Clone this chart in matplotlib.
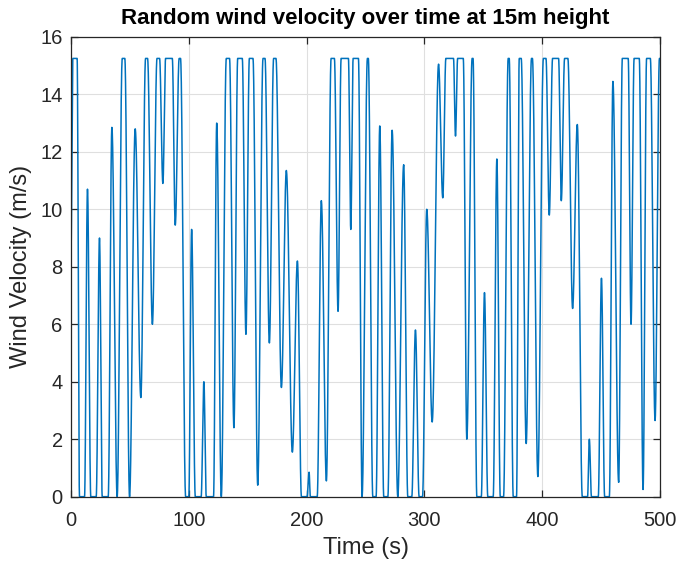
import numpy as np
import matplotlib
matplotlib.use("Agg")
import matplotlib.pyplot as plt

# turning points of the wind trace (time in s, velocity in m/s)
# a flat run at the cap (15.25) or at zero is given as its two end points
knot_t = [0, 1.6, 5.2, 7.2, 11.5, 14.0, 16.8, 21.4, 24.2, 26.5,
          31.6, 34.7, 39.2, 43.5, 45.7, 49.7, 54.5, 59.3, 63.3, 65.0,
          69.1, 73.0, 75.2, 78.0, 80.3, 86.0, 88.5, 91.8, 93.0, 97.3,
          100.0, 102.4, 105.5, 110.5, 112.8, 114.8, 121.0, 123.7, 127.6, 131.8,
          134.6, 138.3, 141.5, 145.4, 148.5, 151.4, 154.5, 158.5, 163.0, 164.7,
          168.4, 172.0, 174.0, 178.6, 182.8, 187.9, 192.2, 195.6, 200.4, 202.1,
          203.2, 209.0, 212.5, 216.8, 220.8, 223.6, 226.7, 229.3, 235.5, 237.5,
          239.5, 244.0, 247.1, 251.6, 252.4, 256.2, 259.0, 262.1, 265.5, 269.0,
          272.6, 277.4, 282.4, 285.9, 289.3, 292.4, 295.5, 298.4, 302.0, 306.6,
          312.0, 315.6, 318.2, 324.7, 326.4, 328.2, 333.0, 336.0, 340.5, 341.3,
          344.5, 348.3, 351.0, 353.8, 358.4, 361.5, 364.4, 367.2, 371.1, 372.0,
          375.4, 378.2, 380.5, 382.2, 386.4, 390.9, 391.7, 396.3, 401.0, 403.2,
          406.0, 408.8, 413.9, 416.2, 419.0, 421.8, 425.8, 429.8, 434.0, 438.5,
          440.0, 441.8, 447.6, 450.3, 453.0, 457.0, 460.0, 464.9, 468.0, 473.0,
          475.4, 478.0, 482.4, 485.6, 488.6, 491.8, 495.8, 499.5, 500.0]
knot_v = [8.6, 15.25, 15.25, 0, 0, 10.7, 0, 0, 9.0, 0,
          0, 12.85, 0, 15.25, 15.25, 0, 12.8, 3.45, 15.25, 15.25,
          6.0, 15.25, 15.25, 10.9, 15.25, 15.25, 9.45, 15.25, 15.25, 0,
          0, 9.3, 0, 0, 4.0, 0, 0, 13.0, 0, 15.25,
          15.25, 2.4, 15.25, 15.25, 5.65, 15.25, 15.25, 0.4, 15.25, 15.25,
          5.35, 15.25, 15.25, 3.8, 11.35, 1.55, 8.2, 0, 0, 0.85,
          0, 0, 10.3, 0.55, 15.25, 15.25, 6.45, 15.25, 15.25, 9.3,
          15.25, 15.25, 0, 15.25, 15.25, 0, 0, 12.9, 0, 0,
          12.75, 0, 11.55, 0, 0, 5.8, 0, 0, 10.0, 2.6,
          15.05, 10.4, 15.25, 15.25, 12.55, 15.25, 15.25, 2.0, 15.25, 15.25,
          0, 0, 7.1, 0, 0, 11.75, 0, 0, 15.25, 15.25,
          0, 0, 15.25, 15.25, 1.85, 15.25, 15.25, 0.7, 15.25, 15.25,
          9.8, 15.25, 15.25, 10.3, 15.25, 15.25, 6.55, 12.95, 0, 0,
          2.0, 0, 0, 7.6, 0, 0, 14.45, 0.5, 15.25, 15.25,
          6.0, 15.25, 15.25, 0.25, 15.25, 15.25, 2.65, 15.25, 15.25]

x_ticks = [0, 100, 200, 300, 400, 500]
y_ticks = [0, 2, 4, 6, 8, 10, 12, 14, 16]

matlab_blue = "#0072BD"
axis_grey = "#262626"

plt.rcParams["font.family"] = ["Liberation Sans", "DejaVu Sans"]


def smooth_trace(ts, vs, per_seg=40):
    # half-cosine easing between neighbouring turning points
    out_t, out_v = [], []
    for i in range(len(ts) - 1):
        s = np.linspace(0, 1, per_seg, endpoint=False)
        w = (1 - np.cos(np.pi * s)) / 2
        out_t.append(ts[i] + (ts[i + 1] - ts[i]) * s)
        out_v.append(vs[i] + (vs[i + 1] - vs[i]) * w)
    out_t.append([ts[-1]])
    out_v.append([vs[-1]])
    return np.concatenate(out_t), np.concatenate(out_v)


t, v = smooth_trace(knot_t, knot_v)

fig = plt.figure(figsize=(6.8, 5.63), dpi=100)
ax = fig.add_axes([0.1044, 0.1178, 0.8662, 0.8167])
ax.plot(t, v, color=matlab_blue, lw=1.1)

ax.set_xlim(0, 500)
ax.set_ylim(0, 16)
ax.set_xticks(x_ticks)
ax.set_yticks(y_ticks)
ax.grid(True, color="#dfdfdf", lw=0.8)
ax.set_axisbelow(True)

for sp in ax.spines.values():
    sp.set_color(axis_grey)
    sp.set_linewidth(0.9)
ax.tick_params(direction="in", length=5, width=0.9, color=axis_grey,
               labelcolor=axis_grey, labelsize=14.5, top=True, right=True)
ax.tick_params(axis="x", pad=10)
ax.tick_params(axis="y", pad=6)

ax.set_xlabel("Time (s)", fontsize=17, color=axis_grey, labelpad=5)
ax.set_ylabel("Wind Velocity (m/s)", fontsize=17, color=axis_grey, labelpad=6)
ax.set_title("Random wind velocity over time at 15m height", fontsize=16,
             fontweight="bold", color="black", pad=9)

fig.savefig("out.png", dpi=100, facecolor="white")
